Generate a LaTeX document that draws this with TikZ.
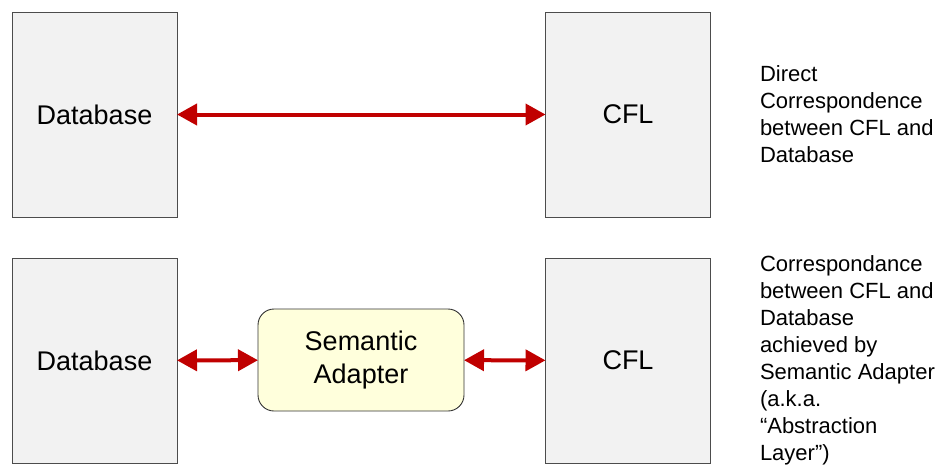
\documentclass[tikz,border=0pt]{standalone}
\usepackage{fontspec}
\setmainfont{Liberation Sans}
\usetikzlibrary{arrows.meta}

\definecolor{boxgray}{HTML}{F2F2F2}
\definecolor{adapteryellow}{HTML}{FFFFDC}
\definecolor{linkred}{HTML}{C00000}

\begin{document}
\begin{tikzpicture}[%
      x=1pt, y=-1pt,
      every node/.style={inner sep=0pt, outer sep=0pt},
      store/.style={draw=black!70, fill=boxgray, line width=0.9pt,
                    minimum width=165pt, minimum height=205pt,
                    font={\fontsize{27}{31}\selectfont}},
      adapter/.style={draw=black!80, fill=adapteryellow, line width=0.9pt,
                      rounded corners=16pt, minimum width=206pt,
                      minimum height=102pt, align=center,
                      font={\fontsize{27}{33}\selectfont}},
      note/.style={anchor=west, align=left,
                   font={\fontsize{22}{27}\selectfont}},
      link/.style={draw=linkred, line width=4pt,
                   {Triangle[length=20pt,width=21pt]}-{Triangle[length=20pt,width=21pt]}}
    ]
    \useasboundingbox (0,0) rectangle (944,466);
    \node [store] (db top) at (94.5,114.5) {Database};
    \node [store] (cfl top) at (628,114.5) {CFL};
    \draw [link] (db top) -- (cfl top);
    \node [note] (direct note) at (760,114) {Direct\\Correspondence\\between CFL and\\Database};

    \node [store] (db bottom) at (94.5,360.5) {Database};
    \node [store] (cfl bottom) at (628,360.5) {CFL};
    \node [adapter] (sem adapter) at (361,360) {Semantic\\Adapter};
    \draw [link] (db bottom) -- (sem adapter);
    \draw [link] (sem adapter) -- (cfl bottom);
    \node [note] (adapter note) at (760,360)
     {Correspondance\\between CFL and\\Database\\achieved by\\Semantic Adapter\\(a.k.a.\\“Abstraction\\Layer”)};
\end{tikzpicture}
\end{document}
